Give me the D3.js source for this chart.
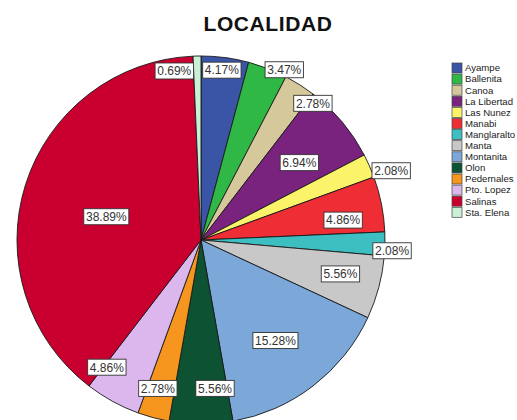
<!DOCTYPE html>
<html lang="es">
<head>
<meta charset="UTF-8">
<script src="https://d3js.org/d3.v7.min.js"></script>
<style>
  body { margin: 0; background: #fff; }
  #plot { position: absolute; left: 0; top: 0; width: 517px; height: 420px; }
</style>
</head>
<body>
<div id="plot"></div>
<script>
// values (percent of cases, clockwise from 12 o'clock)
const categories = ["Ayampe", "Ballenita", "Canoa", "La Libertad", "Las Nunez", "Manabi",
  "Manglaralto", "Manta", "Montanita", "Olon", "Pedernales", "Pto. Lopez", "Salinas", "Sta. Elena"];
const percents = [4.17, 3.47, 2.78, 6.94, 2.08, 4.86, 2.08, 5.56, 15.28, 5.56, 2.78, 4.86, 38.89, 0.69];

const sliceColors = ["#3a55a6", "#2fb845", "#d5c99b", "#79237f", "#fbf46b", "#ee2d35", "#3dbfc2",
  "#c8c8c8", "#7ca8d9", "#0c5233", "#f7961f", "#dbb7ee", "#c9002f", "#caf0d5"];

// label placement, SPSS style: [radius factor, angle nudge in degrees]
const labelLayout = [[0.93, -0.5], [1.03, 4.8], [0.96, 6.8], [0.68, 1.8], [1.10, 3.75], [0.78, 3.3],
  [1.04, 2], [0.78, -1.3], [0.68, 1], [0.81, -5.4], [0.84, 1.2], [0.86, 7.75], [0.53, -3.7], [0.93, -7.75]];

function drawPie() {
  const width = 517, height = 420;
  const cx = 201, cy = 240, radius = 184;

  const data = categories.map((c, i) => ({ name: c, value: percents[i], color: sliceColors[i], i: i }));

  const svg = d3.select("#plot").append("svg")
      .attr("width", width)
      .attr("height", height)
      .style("font-family", "'Liberation Sans', Arial, sans-serif");

  svg.append("rect").attr("width", width).attr("height", height).attr("fill", "#fff");

  // title
  svg.append("text")
      .attr("x", 268)
      .attr("y", 31)
      .attr("text-anchor", "middle")
      .attr("font-weight", "bold")
      .attr("font-size", 21)
      .attr("letter-spacing", 0.6)
      .attr("fill", "#111")
      .text("LOCALIDAD");

  const arcs = d3.pie().sort(null).value(d => d.value)(data);
  const arc = d3.arc().innerRadius(0).outerRadius(radius);

  const g = svg.append("g").attr("transform", `translate(${cx},${cy})`);

  g.append("g")
      .attr("stroke", "#1a1a1a")
      .attr("stroke-width", 0.9)
      .attr("stroke-linejoin", "round")
    .selectAll("path")
    .data(arcs)
    .join("path")
      .attr("fill", d => d.data.color)
      .attr("d", arc);

  // percentage labels in white boxes
  const fmt = v => d3.format(".2f")(v) + "%";
  const labels = g.append("g")
    .selectAll("g")
    .data(arcs)
    .join("g")
      .attr("transform", d => {
        const [k, nudge] = labelLayout[d.data.i];
        const mid = (d.startAngle + d.endAngle) / 2 + nudge * Math.PI / 180;
        const r = radius * k;
        const p = d3.arc().innerRadius(r).outerRadius(r).centroid({ startAngle: mid, endAngle: mid });
        return `translate(${p[0]},${p[1]})`;
      });

  labels.each(function(d) {
    const lg = d3.select(this);
    const rect = lg.append("rect")
        .attr("fill", "#fff")
        .attr("stroke", "#333")
        .attr("stroke-width", 0.9);
    const t = lg.append("text")
        .attr("text-anchor", "middle")
        .attr("dy", "0.36em")
        .attr("font-size", 12)
        .attr("fill", "#333")
        .text(fmt(d.data.value));
    const bb = t.node().getBBox();
    rect.attr("x", -bb.width / 2 - 2)
        .attr("y", -8)
        .attr("width", bb.width + 4)
        .attr("height", 16);
  });

  // legend
  const legend = svg.append("g")
      .attr("transform", "translate(452,63)");

  const row = legend.selectAll("g")
    .data(data)
    .join("g")
      .attr("transform", (d, i) => `translate(0,${i * 11.1})`);

  row.append("rect")
      .attr("width", 10)
      .attr("height", 10)
      .attr("fill", d => d.color)
      .attr("stroke", "#444")
      .attr("stroke-width", 0.7);

  row.append("text")
      .attr("x", 13)
      .attr("y", 5)
      .attr("dy", "0.35em")
      .attr("font-size", 9.6)
      .attr("fill", "#222")
      .text(d => d.name);
}

window.onload = drawPie;
</script>
</body>
</html>
